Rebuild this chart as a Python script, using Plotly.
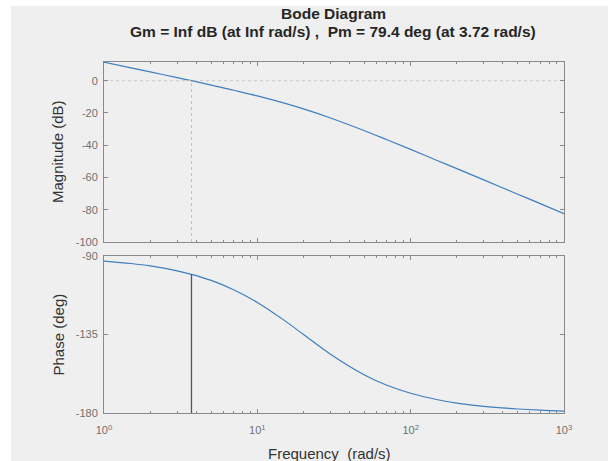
import plotly.graph_objects as go

# ---- data ----
freq = [1, 1.5, 2, 3, 3.72, 5, 7, 10, 15, 20, 30, 50, 70, 100, 150, 200, 300, 500, 700, 1000]
mag_db = [11.5, 8.0, 5.5, 1.9, 0.0, -2.7, -5.9, -9.4, -13.9, -17.5, -23.1, -31.0, -36.6,
          -42.6, -49.6, -54.5, -61.5, -70.4, -76.2, -82.4]
phase_deg = [-92.9, -94.3, -95.7, -98.5, -100.5, -104.0, -109.3, -116.6, -126.9, -135.0,
             -146.3, -158.2, -164.1, -168.7, -172.4, -174.3, -176.2, -177.7, -178.4, -178.9]

wc = 3.72          # gain crossover (rad/s)
pm = 79.4          # phase margin (deg)
mag_ticks = [0, -20, -40, -60, -80, -100]
mag_ticktext = ["0", "-20", "-40", "-60", "-80", "-100"]
phase_ticks = [-90, -135, -180]
phase_ticktext = ["-90", "-135", "-180"]
x_tickvals = [1, 10, 100, 1000]
x_ticktext = ["10<sup>0</sup>", "10<sup>1</sup>", "10<sup>2</sup>", "10<sup>3</sup>"]

title_line1 = "<b>Bode Diagram</b>"
title_line2 = "<b>Gm = Inf dB (at Inf rad/s) ,  Pm = 79.4 deg (at 3.72 rad/s)</b>"

line_col = "#3d7fbf"
axis_col = "#8a8a8a"
tick_font = dict(family="Liberation Sans", size=11, color="#707070")
label_font = dict(family="Liberation Sans", size=15, color="#333333")
title_font = dict(family="Liberation Sans", size=15.5, color="#262626")

fig = go.Figure()

# magnitude
fig.add_trace(go.Scatter(x=freq, y=mag_db, mode="lines", line=dict(color=line_col, width=1.2),
                         line_shape="spline", xaxis="x", yaxis="y", showlegend=False))
# 0 dB reference line
fig.add_trace(go.Scatter(x=[freq[0], freq[-1]], y=[0, 0], mode="lines",
                         line=dict(color="#c8c8c8", width=1, dash="dot"),
                         xaxis="x", yaxis="y", showlegend=False))
# crossover vertical in magnitude plot
fig.add_trace(go.Scatter(x=[wc, wc], y=[mag_ticks[-1], 0], mode="lines",
                         line=dict(color="#c0c0c0", width=1, dash="dot"),
                         xaxis="x", yaxis="y", showlegend=False))

# phase
fig.add_trace(go.Scatter(x=freq, y=phase_deg, mode="lines", line=dict(color=line_col, width=1.2),
                         line_shape="spline", xaxis="x2", yaxis="y2", showlegend=False))
# phase margin vertical
fig.add_trace(go.Scatter(x=[wc, wc], y=[-180, -180 + pm], mode="lines",
                         line=dict(color="#555555", width=1.3),
                         xaxis="x2", yaxis="y2", showlegend=False))

common_x = dict(type="log", range=[0, 3], showgrid=False, zeroline=False,
                showline=True, linecolor=axis_col, linewidth=1, mirror="ticks",
                ticks="inside", ticklen=4, tickcolor=axis_col,
                tickvals=x_tickvals,
                minor=dict(ticks="inside", ticklen=2, tickcolor=axis_col, dtick="D1", showgrid=False))
common_y = dict(showgrid=False, zeroline=False, showline=True, linecolor=axis_col,
                linewidth=1, mirror="ticks", ticks="inside", ticklen=4, tickcolor=axis_col,
                tickfont=tick_font, ticklabelstandoff=3)

fig.update_layout(
    width=608, height=461,
    margin=dict(l=104, r=44, t=62, b=48),
    paper_bgcolor="white",
    plot_bgcolor="white",
    font=dict(family="Liberation Sans", color="#333333"),
    xaxis=dict(common_x, anchor="y", showticklabels=False),
    yaxis=dict(common_y, domain=[0.4872, 1], range=[-100, 11.6], tickvals=mag_ticks,
               ticktext=mag_ticktext, anchor="x"),
    xaxis2=dict(common_x, anchor="y2", ticktext=x_ticktext, tickfont=tick_font,
                ticklabelstandoff=7),
    yaxis2=dict(common_y, domain=[0, 0.4473], range=[-180, -90], tickvals=phase_ticks,
                ticktext=phase_ticktext, anchor="x2"),
    shapes=[dict(type="rect", xref="paper", yref="paper", x0=-0.2022, x1=1.2, y0=-0.2, y1=1.1595,
                 fillcolor="#efefef", line=dict(width=0), layer="below")],
    annotations=[
        dict(text=title_line1, xref="paper", yref="paper", x=0.498, y=1.1368,
             showarrow=False, xanchor="center", yanchor="middle", font=title_font),
        dict(text=title_line2, xref="paper", yref="paper", x=0.498, y=1.0883,
             showarrow=False, xanchor="center", yanchor="middle", font=title_font),
        dict(text="Magnitude (dB)", xref="paper", yref="paper", x=-0.1, y=0.7436,
             textangle=-90, showarrow=False, xanchor="center", yanchor="middle",
             font=label_font),
        dict(text="Phase (deg)", xref="paper", yref="paper", x=-0.1, y=0.2237,
             textangle=-90, showarrow=False, xanchor="center", yanchor="middle",
             font=label_font),
        dict(text="Frequency  (rad/s)", xref="paper", yref="paper", x=0.491, y=-0.114,
             showarrow=False, xanchor="center", yanchor="middle",
             font=label_font),
    ],
)

fig.write_html("out.html", config={"displayModeBar": False},
               post_script="document.body.style.margin='0';document.body.style.overflow='hidden';")
